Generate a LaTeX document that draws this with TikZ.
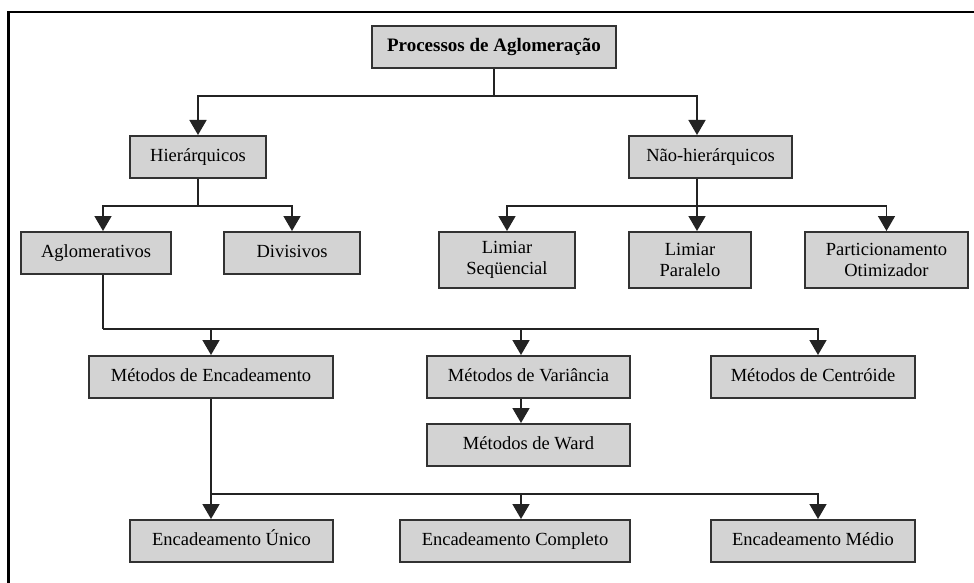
\documentclass[tikz,border=0pt]{standalone}
\usepackage{fontspec}
\setmainfont{Liberation Serif}
\usetikzlibrary{arrows.meta}
\definecolor{boxfill}{RGB}{211,211,211}
\definecolor{boxline}{RGB}{50,50,50}
\definecolor{conline}{RGB}{35,35,35}
\tikzset{
  boxbase/.style={draw=boxline, line width=2pt, fill=boxfill, inner sep=0pt,
    align=center, font=\fontsize{18.5}{20.5}\selectfont},
  box/.style={boxbase, text height=13pt, text depth=4pt},
  boxtwo/.style={boxbase},
  conn/.style={draw=conline, line width=1.6pt},
  arr/.style={conn, -{Triangle[width=17pt,length=15pt]}},
}
\begin{document}
\begin{tikzpicture}[x=1pt,y=-1pt]
\useasboundingbox (0,0) rectangle (974,583);
% frame
\draw[black, line width=2.8pt] (8.5,583) -- (8.5,12) -- (974,12);
% nodes
\node[box, minimum width=244pt, minimum height=42pt, font=\fontsize{19}{21}\selectfont\bfseries] (P) at (494,47) {Processos de Aglomeração};
\node[box, minimum width=136pt, minimum height=42pt] (H) at (198,157) {Hierárquicos};
\node[box, minimum width=163pt, minimum height=42pt] (N) at (710.5,157) {Não-hierárquicos};
\node[box, minimum width=150pt, minimum height=42pt] (A) at (96,253) {Aglomerativos};
\node[box, minimum width=136pt, minimum height=42pt] (D) at (292,253) {Divisivos};
\node[boxtwo, minimum width=136pt, minimum height=56pt] (LS) at (507,260) {Limiar\\Seqüencial};
\node[boxtwo, minimum width=122pt, minimum height=56pt] (LP) at (690,260) {Limiar\\Paralelo};
\node[boxtwo, minimum width=163pt, minimum height=56pt] (PO) at (886.5,260) {Particionamento\\Otimizador};
\node[box, minimum width=244pt, minimum height=42pt] (ME) at (211,377) {Métodos de Encadeamento};
\node[box, minimum width=203pt, minimum height=42pt] (MV) at (528.5,377) {Métodos de Variância};
\node[box, minimum width=204pt, minimum height=42pt] (MC) at (813,377) {Métodos de Centróide};
\node[box, minimum width=203pt, minimum height=42pt] (MW) at (528.5,445) {Métodos de Ward};
\node[box, minimum width=203pt, minimum height=42pt] (EU) at (231.5,541) {Encadeamento Único};
\node[box, minimum width=230pt, minimum height=42pt] (EC) at (515,541) {Encadeamento Completo};
\node[box, minimum width=204pt, minimum height=42pt] (EM) at (813,541) {Encadeamento Médio};
% connectors
\draw[conn] (P.south) -- ++(0,27) coordinate (j1);
\draw[arr] (j1) -| (H.north);
\draw[arr] (j1) -| ([xshift=-13.5pt]N.north);

\draw[conn] (H.south) -- ++(0,27) coordinate (j2);
\draw[arr] (j2) -| ([xshift=7pt]A.north);
\draw[arr] (j2) -| (D.north);

\draw[conn] ([xshift=-13.5pt]N.south) -- ++(0,27) coordinate (j3);
\draw[arr] (j3) -| (LS.north);
\draw[arr] (j3) -- ([xshift=7pt]LP.north);
\draw[arr] (j3) -| (PO.north);

\draw[conn] ([xshift=7pt]A.south) -- ++(0,54) coordinate (j4);
\draw[arr] (j4) -| (ME.north);
\draw[arr] (j4) -| ([xshift=-7.5pt]MV.north);
\draw[arr] (j4) -| ([xshift=5pt]MC.north);

\draw[arr] ([xshift=-7.5pt]MV.south) -- ([xshift=-7.5pt]MW.north);

\draw[arr] (ME.south) -- (ME.south |- EU.north);
\path (ME.south) ++(0,95) coordinate (j5);
\draw[arr] (j5) -| ([xshift=6pt]EC.north);
\draw[arr] (j5) -| ([xshift=5pt]EM.north);
\end{tikzpicture}
\end{document}
